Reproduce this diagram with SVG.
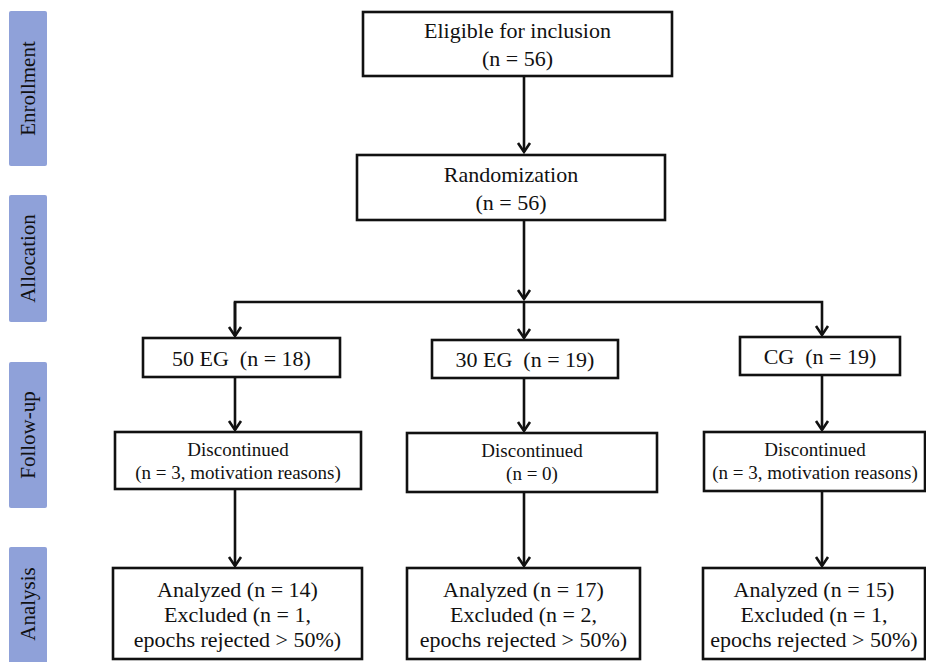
<svg xmlns="http://www.w3.org/2000/svg" width="926" height="662" viewBox="0 0 926 662">
<style>
.lab{fill:#8FA1D9;}
.labt{font-family:'Liberation Serif','Times New Roman','DejaVu Serif',serif;font-size:21px;fill:#111;text-anchor:middle;}
.box{fill:#fff;stroke:#111;stroke-width:2.6;}
.t{font-family:'Liberation Serif','Times New Roman','DejaVu Serif',serif;font-size:22px;fill:#111;text-anchor:middle;white-space:pre;}
.ts{font-family:'Liberation Serif','Times New Roman','DejaVu Serif',serif;font-size:19px;fill:#111;text-anchor:middle;}
.c{fill:none;stroke:#111;stroke-width:2.6;}
</style>
<defs>
<marker id="ah" markerUnits="userSpaceOnUse" markerWidth="14" markerHeight="16" viewBox="-12 -8 14 16" refX="0" refY="0" orient="auto" overflow="visible">
<path d="M-9,-6 L0,0 L-9,6" fill="none" stroke="#111" stroke-width="2.6" stroke-linejoin="miter"/>
</marker>
</defs>
<rect width="926" height="662" fill="#fff"/>
<g id="stage-labels">
<g id="label-enrollment"><rect class="lab" x="9" y="11" width="38" height="155" rx="2"/><text class="labt" transform="translate(35,88.5) rotate(-90)">Enrollment</text></g>
<g id="label-allocation"><rect class="lab" x="9" y="195" width="38" height="127" rx="2"/><text class="labt" transform="translate(35,258.5) rotate(-90)">Allocation</text></g>
<g id="label-followup"><rect class="lab" x="9" y="362" width="38" height="146" rx="2"/><text class="labt" transform="translate(35,435) rotate(-90)">Follow-up</text></g>
<g id="label-analysis"><rect class="lab" x="9" y="547" width="38" height="118" rx="2"/><text class="labt" transform="translate(35,604) rotate(-90)">Analysis</text></g>
</g>
<g id="connectors">
<line class="c" x1="524" y1="76" x2="524" y2="152" marker-end="url(#ah)"/>
<line class="c" x1="524" y1="220" x2="524" y2="299" marker-end="url(#ah)"/>
<polyline class="c" points="235,336 235,302 822,302 822,335" marker-end="url(#ah)"/>
<line class="c" x1="235" y1="302" x2="235" y2="336" marker-end="url(#ah)"/>
<line class="c" x1="524" y1="302" x2="524" y2="338" marker-end="url(#ah)"/>
<line class="c" x1="235" y1="377" x2="235" y2="430" marker-end="url(#ah)"/>
<line class="c" x1="524" y1="378" x2="524" y2="431" marker-end="url(#ah)"/>
<line class="c" x1="822" y1="375" x2="822" y2="430" marker-end="url(#ah)"/>
<line class="c" x1="235" y1="489" x2="235" y2="566" marker-end="url(#ah)"/>
<line class="c" x1="524" y1="492" x2="524" y2="566" marker-end="url(#ah)"/>
<line class="c" x1="822" y1="491" x2="822" y2="566" marker-end="url(#ah)"/>
</g>
<g id="eligible"><rect class="box" x="363" y="12" width="309" height="64"/><text class="t" x="517.5" y="38">Eligible for inclusion</text><text class="t" x="517.5" y="66">(n = 56)</text></g>
<g id="randomization"><rect class="box" x="357" y="155" width="308" height="65"/><text class="t" x="511" y="182">Randomization</text><text class="t" x="511" y="210">(n = 56)</text></g>
<g id="eg50"><rect class="box" x="143" y="338" width="197" height="39"/><text class="t" x="241.5" y="366" xml:space="preserve">50 EG  (n = 18)</text></g>
<g id="eg30"><rect class="box" x="432" y="340" width="186" height="38"/><text class="t" x="525" y="367" xml:space="preserve">30 EG  (n = 19)</text></g>
<g id="cg"><rect class="box" x="740" y="337" width="160" height="38"/><text class="t" x="820" y="364" xml:space="preserve">CG  (n = 19)</text></g>
<g id="disc-50"><rect class="box" x="115" y="432" width="246" height="57"/><text class="ts" x="238" y="456">Discontinued</text><text class="ts" x="238" y="479">(n = 3, motivation reasons)</text></g>
<g id="disc-30"><rect class="box" x="407" y="433" width="250" height="59"/><text class="ts" x="532" y="457">Discontinued</text><text class="ts" x="532" y="480">(n = 0)</text></g>
<g id="disc-cg"><rect class="box" x="704" y="432" width="221" height="59"/><text class="ts" x="815" y="456">Discontinued</text><text class="ts" x="815" y="479">(n = 3, motivation reasons)</text></g>
<g id="anal-50"><rect class="box" x="113" y="568" width="249" height="91"/><text class="t" x="237.5" y="597">Analyzed (n = 14)</text><text class="t" x="237.5" y="622">Excluded (n = 1,</text><text class="t" x="237.5" y="647">epochs rejected &gt; 50%)</text></g>
<g id="anal-30"><rect class="box" x="407" y="568" width="233" height="91"/><text class="t" x="523.5" y="597">Analyzed (n = 17)</text><text class="t" x="523.5" y="622">Excluded (n = 2,</text><text class="t" x="523.5" y="647">epochs rejected &gt; 50%)</text></g>
<g id="anal-cg"><rect class="box" x="703" y="568" width="222" height="91"/><text class="t" x="814" y="597">Analyzed (n = 15)</text><text class="t" x="814" y="622">Excluded (n = 1,</text><text class="t" x="814" y="647">epochs rejected &gt; 50%)</text></g>
</svg>
